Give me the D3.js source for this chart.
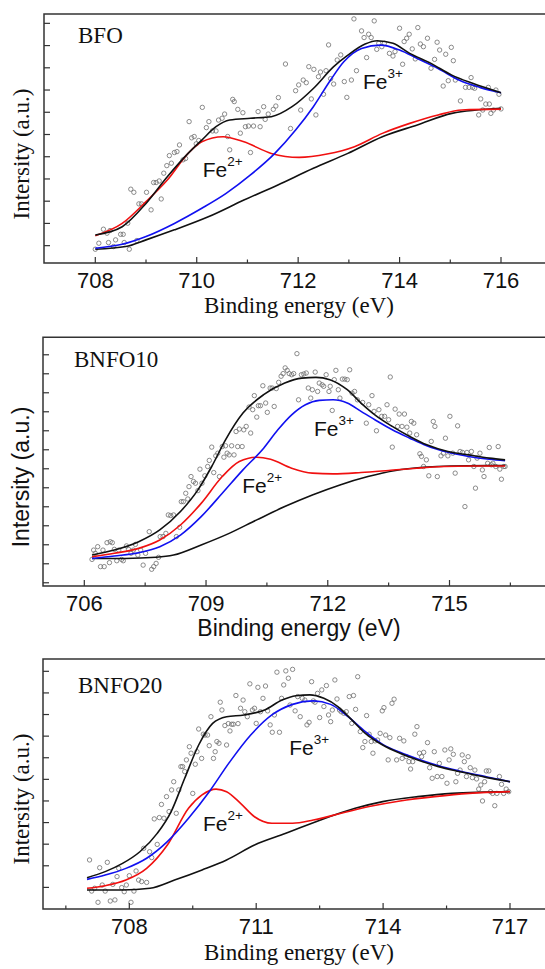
<!DOCTYPE html>
<html>
<head>
<meta charset="utf-8">
<script src="https://cdn.jsdelivr.net/npm/d3@7"></script>
<style>
  html, body { margin: 0; padding: 0; background: #fff; }
  svg { display: block; }
</style>
</head>
<body>
<svg id="chart" width="545" height="969"></svg>
<script>
// ---------------- DATA ----------------
// Panel titles
const sampleNames = ["BFO", "BNFO10", "BNFO20"];
const axisTitleX = "Binding energy (eV)";
const axisTitleY = "Intersity (a.u.)";

// X tick values (binding energy, eV)
const bfoMajorTicks = [708, 710, 712, 714, 716];
const bfoMinorTicks = [709, 711, 713, 715];
const bnfo10MajorTicks = [706, 709, 712, 715];
const bnfo10MinorTicks = [707.5, 710.5, 713.5, 716.5];
const bnfo20MajorTicks = [708, 711, 714, 717];
const bnfo20MinorTicks = [706.5, 709.5, 712.5, 715.5];

// Y ticks (unlabelled, arbitrary units)
const bfoYTicks = [1, 2, 3, 4, 5, 6, 7, 8, 9, 10, 11];
const bnfo10YTicks = [1, 2, 3, 4, 5, 6, 7, 8, 9, 10, 11, 12, 13];
const bnfo20YTicks = [1, 2, 3, 4, 5, 6, 7, 8, 9, 10, 11];

// ---- BFO ----
const bfoPoints = [
[708.00,0.84],[708.07,1.11],[708.16,1.74],[708.23,1.56],[708.29,1.68],[708.26,1.14],[708.36,0.96],[708.40,1.26],
[708.50,1.51],[708.55,1.51],[708.57,1.14],[708.64,2.01],[708.67,0.84],[708.70,3.54],[708.76,3.40],[708.82,1.23],
[708.86,2.88],[708.91,2.88],[709.01,3.40],[709.10,2.61],[709.15,3.84],[709.20,3.84],[709.26,3.91],[709.30,3.10],
[709.35,4.26],[709.41,4.60],[709.46,5.05],[709.50,4.71],[709.56,5.19],[709.61,5.23],[709.66,5.53],[709.73,4.86],
[709.78,4.92],[709.85,6.58],[709.90,5.85],[709.95,5.91],[709.99,5.58],[710.04,5.73],[710.11,7.22],[710.19,6.31],
[710.24,6.58],[710.31,6.16],[710.38,6.16],[710.43,6.65],[710.50,6.73],[710.55,6.92],[710.61,5.91],[710.65,5.31],
[710.71,7.58],[710.74,7.48],[710.81,7.13],[710.86,6.06],[710.91,6.98],[710.96,6.35],[711.02,6.38],[711.06,5.19],
[711.12,6.38],[711.21,7.03],[711.25,6.35],[711.32,7.25],[711.35,6.68],[711.41,6.92],[711.51,7.13],[711.56,7.28],
[711.61,7.66],[711.75,9.17],[711.85,6.27],[711.95,7.97],[712.01,8.23],[712.05,7.10],[712.10,8.45],[712.16,8.33],
[712.21,9.05],[712.26,7.60],[712.31,8.93],[712.35,6.88],[712.40,8.60],[712.44,8.81],[712.50,7.81],[712.55,8.87],
[712.60,10.03],[712.64,8.51],[712.70,8.27],[712.77,9.35],[712.84,9.58],[712.91,8.38],[712.96,7.67],[713.05,8.45],
[713.10,11.20],[713.15,8.87],[713.25,10.66],[713.30,10.36],[713.35,9.46],[713.39,10.51],[713.44,10.36],[713.50,11.11],
[713.55,9.83],[713.59,10.10],[713.65,9.95],[713.70,10.10],[713.80,9.65],[713.87,9.53],[713.91,9.73],[714.00,10.78],
[714.06,9.16],[714.09,10.18],[714.14,10.33],[714.19,10.51],[714.25,9.85],[714.31,9.40],[714.36,10.81],[714.41,10.07],
[714.47,9.95],[714.55,10.33],[714.62,8.98],[714.69,9.38],[714.74,10.15],[714.79,9.80],[714.86,8.18],[714.91,9.61],
[714.96,8.42],[715.02,9.92],[715.06,9.32],[715.10,8.45],[715.20,7.51],[715.30,8.12],[715.37,8.12],[715.41,8.56],
[715.44,8.12],[715.48,8.08],[715.56,6.88],[715.60,7.60],[715.64,7.10],[715.70,7.37],[715.75,8.12],[715.77,7.37],
[715.80,6.95],[715.85,7.10],[715.90,8.00],[715.96,7.81],[716.00,7.15]
];
const bfoEnvelope = [[708,1.48],[708.53,1.85],[709.0,2.9],[709.42,4.1],[709.83,5.15],[710.1,5.75],[710.38,6.35],[710.65,6.65],
[711.06,6.73],[711.47,6.8],[711.88,7.25],[712.3,8.07],[712.7,9.05],[712.98,9.57],[713.32,10.07],[713.56,10.22],[713.87,10.1],
[714.2,9.65],[714.62,9.2],[715.03,8.67],[715.44,8.3],[716.0,7.88]];
const bfoFe3 = [[708,0.88],[708.53,1.06],[709.0,1.41],[709.56,2.0],[710.1,2.68],[710.58,3.35],[711.06,4.18],[711.54,5.15],
[711.95,6.2],[712.3,7.25],[712.64,8.45],[712.9,9.27],[713.25,9.87],[713.63,10.02],[714.0,9.8],[714.35,9.42],[714.76,8.97],
[715.17,8.45],[715.58,8.12],[716.0,7.88]];
const bfoFe2 = [[708,1.45],[708.53,2.0],[709.0,2.98],[709.42,3.95],[709.83,5.15],[710.1,5.67],[710.52,5.9],[710.93,5.67],
[711.47,5.15],[712.02,4.97],[712.57,5.12],[713.11,5.45],[713.66,6.05],[714.2,6.5],[714.76,6.88],[715.23,7.1],[716.0,7.14]];
const bfoBackground = [[708,0.84],[708.6,0.96],[709.0,1.26],[709.56,1.71],[710.24,2.31],[710.93,3.05],[711.6,3.73],[712.3,4.48],
[712.98,5.15],[713.66,5.9],[714.35,6.43],[715.03,6.95],[716.0,7.18]];

// ---- BNFO10 ----
const bnfo10Points = [
[706.19,2.23],[706.23,2.72],[706.27,2.55],[706.33,2.90],[706.40,1.85],[706.46,2.72],[706.49,1.85],[706.56,3.11],
[706.62,2.06],[706.64,3.16],[706.69,3.11],[706.74,2.76],[706.80,2.16],[706.85,2.72],[706.92,2.23],[706.96,2.16],
[707.04,2.94],[707.09,2.76],[707.15,2.55],[707.21,2.72],[707.26,3.02],[707.32,2.46],[707.39,2.72],[707.45,1.93],
[707.51,2.55],[707.60,3.69],[707.66,1.71],[707.71,1.85],[707.77,2.02],[707.83,2.34],[707.87,3.43],[707.94,3.43],
[708.01,3.60],[708.07,4.57],[708.13,4.54],[708.20,4.57],[708.27,3.43],[708.35,3.92],[708.39,5.27],[708.44,5.27],
[708.50,5.71],[708.55,5.41],[708.58,6.06],[708.63,6.59],[708.69,6.33],[708.74,6.24],[708.80,5.85],[708.85,6.98],
[708.90,6.24],[708.97,6.63],[709.04,7.12],[709.08,7.44],[709.14,8.14],[709.19,6.80],[709.24,7.68],[709.29,7.82],
[709.33,6.59],[709.40,8.17],[709.44,7.61],[709.48,8.21],[709.52,7.82],[709.57,7.73],[709.63,8.21],[709.69,7.73],
[709.74,8.96],[709.78,8.17],[709.82,9.09],[709.89,8.17],[709.93,9.05],[709.99,9.23],[710.06,10.25],[710.10,8.88],
[710.15,10.11],[710.19,10.85],[710.25,9.72],[710.29,10.32],[710.34,10.32],[710.40,11.37],[710.47,10.46],[710.51,9.97],
[710.58,11.25],[710.63,11.25],[710.68,10.28],[710.73,11.22],[710.79,11.55],[710.85,11.87],[710.90,12.01],[710.95,12.31],
[711.00,12.18],[711.05,12.01],[711.11,11.95],[711.16,12.01],[711.24,13.06],[711.28,10.63],[711.35,11.95],[711.41,11.99],
[711.47,12.04],[711.52,11.25],[711.58,10.72],[711.62,11.16],[711.69,12.09],[711.75,11.07],[711.79,11.51],[711.86,11.42],
[711.90,11.34],[711.96,11.95],[712.03,11.07],[712.06,11.34],[712.11,10.07],[712.16,11.69],[712.20,12.18],[712.26,11.16],
[712.30,10.72],[712.36,11.72],[712.42,11.72],[712.48,11.69],[712.54,12.21],[712.60,10.98],[712.66,11.07],[712.73,10.63],
[712.86,10.49],[712.95,9.40],[713.01,10.37],[713.09,10.85],[713.14,10.02],[713.20,9.00],[713.26,10.11],[713.33,9.76],
[713.40,9.76],[713.46,10.37],[713.50,9.58],[713.54,11.83],[713.59,8.14],[713.66,10.14],[713.72,9.23],[713.76,9.88],
[713.83,9.23],[713.89,9.88],[713.95,9.19],[714.02,8.88],[714.06,9.49],[714.12,9.40],[714.19,8.79],[714.27,7.79],
[714.31,7.65],[714.36,7.12],[714.43,7.47],[714.49,6.63],[714.55,8.44],[714.60,9.49],[714.64,9.23],[714.70,6.59],
[714.79,7.68],[714.85,7.82],[714.90,8.61],[714.96,7.68],[715.01,9.76],[715.08,7.82],[715.14,6.77],[715.20,9.26],
[715.26,7.91],[715.32,7.86],[715.38,5.01],[715.43,7.86],[715.47,7.47],[715.54,7.91],[715.60,7.12],[715.64,5.98],
[715.68,7.56],[715.75,7.82],[715.81,6.94],[715.85,6.59],[715.94,7.29],[715.98,8.12],[716.03,7.21],[716.07,7.29],
[716.14,7.12],[716.20,8.17],[716.24,6.98],[716.28,6.45],[716.34,7.12],[716.37,7.12]
];
const bnfo10Envelope = [[706.19,2.46],[706.74,2.72],[707.34,3.16],[707.86,3.78],[708.37,4.75],[708.8,5.89],[709.14,7.12],
[709.48,8.52],[709.91,9.93],[710.42,10.9],[710.94,11.51],[711.36,11.77],[711.71,11.81],[712.05,11.69],[712.48,11.16],
[712.82,10.46],[713.16,9.84],[713.59,9.23],[714.02,8.7],[714.44,8.26],[714.96,7.91],[715.47,7.73],[715.98,7.56],[716.37,7.47]];
const bnfo10Fe3 = [[706.19,2.28],[706.74,2.41],[707.34,2.58],[707.86,2.9],[708.37,3.51],[708.88,4.48],[709.4,5.71],
[709.91,6.94],[710.42,8.08],[710.77,9.05],[711.11,9.84],[711.45,10.37],[711.79,10.6],[712.13,10.63],[712.48,10.46],
[712.82,10.02],[713.16,9.58],[713.59,9.05],[714.02,8.61],[714.44,8.21],[714.96,7.87],[715.47,7.65],[715.98,7.5],[716.37,7.42]];
const bnfo10Fe2 = [[706.19,2.37],[706.74,2.55],[707.34,2.81],[707.86,3.25],[708.37,4.04],[708.88,5.18],[709.4,6.59],
[709.82,7.38],[710.25,7.61],[710.59,7.5],[711.11,7.03],[711.62,6.77],[712.13,6.73],[712.82,6.8],[713.5,6.91],[714.19,7.03],
[714.87,7.12],[715.56,7.15],[716.37,7.15]];
const bnfo10Background = [[706.19,2.28],[707.0,2.28],[707.77,2.34],[708.2,2.46],[708.88,2.99],[709.57,3.6],[710.25,4.31],
[710.94,5.01],[711.62,5.62],[712.3,6.15],[712.99,6.59],[713.67,6.91],[714.35,7.08],[715.04,7.15],[716.37,7.17]];

// ---- BNFO20 ----
const bnfo20Points = [
[707.06,2.27],[707.11,0.83],[707.18,0.96],[707.26,0.31],[707.30,1.91],[707.36,1.11],[707.43,0.83],[707.48,2.16],
[707.55,0.37],[707.61,1.14],[707.66,0.42],[707.71,1.50],[707.75,1.88],[707.82,0.99],[707.88,0.80],[707.93,1.11],
[708.00,1.54],[708.04,0.31],[708.11,0.83],[708.16,1.76],[708.22,1.34],[708.29,1.27],[708.34,2.81],[708.41,1.23],
[708.48,2.65],[708.53,2.38],[708.59,4.17],[708.66,2.99],[708.71,4.23],[708.76,4.84],[708.82,4.20],[708.88,5.20],
[708.94,4.51],[709.00,5.51],[709.05,5.89],[709.11,4.43],[709.17,5.51],[709.22,6.59],[709.26,6.59],[709.31,6.36],
[709.35,6.90],[709.42,7.51],[709.46,7.21],[709.50,5.35],[709.56,6.70],[709.60,7.28],[709.64,8.33],[709.71,6.97],
[709.75,8.09],[709.79,8.05],[709.85,8.05],[709.89,7.56],[709.93,8.90],[709.99,6.97],[710.03,7.28],[710.07,7.75],
[710.12,7.67],[710.15,9.57],[710.19,9.21],[710.26,8.49],[710.30,7.59],[710.34,8.58],[710.38,8.24],[710.42,8.55],
[710.46,8.55],[710.52,9.88],[710.57,8.58],[710.63,9.29],[710.69,9.67],[710.73,9.13],[710.79,8.90],[710.85,10.42],
[710.91,9.21],[710.96,9.29],[711.00,8.59],[711.04,10.26],[711.10,9.13],[711.16,9.75],[711.22,10.32],[711.27,9.17],
[711.33,8.52],[711.38,8.18],[711.43,8.98],[711.49,10.96],[711.55,8.18],[711.60,9.75],[711.65,10.37],[711.70,11.02],
[711.76,10.68],[711.80,9.44],[711.86,11.09],[711.92,9.17],[711.98,9.83],[712.04,8.90],[712.09,9.75],[712.15,9.67],
[712.20,8.52],[712.25,8.64],[712.31,10.52],[712.35,9.63],[712.39,9.57],[712.45,9.98],[712.50,8.86],[712.55,10.14],
[712.60,9.37],[712.66,10.34],[712.71,8.98],[712.76,8.67],[712.80,9.21],[712.86,10.60],[712.91,9.72],[712.97,9.21],
[713.01,9.13],[713.07,9.06],[713.13,9.13],[713.20,9.83],[713.26,8.59],[713.30,9.88],[713.35,9.24],[713.40,10.75],
[713.46,8.21],[713.52,7.47],[713.57,7.75],[713.61,8.95],[713.67,8.09],[713.72,7.75],[713.76,7.21],[713.81,7.78],
[713.87,7.82],[713.93,8.13],[713.98,9.17],[714.02,9.32],[714.06,8.05],[714.12,6.90],[714.16,7.93],[714.21,9.52],
[714.26,9.71],[714.32,6.90],[714.39,7.90],[714.45,6.97],[714.49,7.78],[714.55,7.05],[714.61,6.82],[714.65,6.48],
[714.70,6.82],[714.75,8.09],[714.80,8.44],[714.86,7.21],[714.91,7.05],[714.96,7.25],[715.05,7.70],[715.10,6.54],
[715.16,6.05],[715.21,7.28],[715.28,6.13],[715.33,6.74],[715.39,6.13],[715.46,7.36],[715.51,5.82],[715.56,6.90],
[715.60,7.41],[715.66,7.16],[715.72,5.89],[715.76,6.28],[715.82,6.43],[715.87,7.13],[715.92,6.82],[715.97,6.13],
[716.01,7.05],[716.06,6.54],[716.11,6.08],[716.17,6.43],[716.21,6.02],[716.26,5.55],[716.31,5.74],[716.35,5.00],
[716.40,5.89],[716.44,6.39],[716.50,6.39],[716.54,5.43],[716.59,5.35],[716.64,4.78],[716.69,5.35],[716.75,6.13],
[716.80,5.77],[716.85,5.35],[716.91,5.55],[716.97,5.43]
];
const bnfo20Envelope = [[707.0,1.45],[707.43,1.73],[707.84,2.11],[708.25,2.65],[708.66,3.5],[708.99,4.51],[709.31,6.05],
[709.64,7.59],[709.97,8.59],[710.3,8.9],[710.71,8.98],[711.2,9.21],[711.61,9.67],[711.94,9.87],[712.27,9.91],[712.6,9.75],
[712.93,9.37],[713.26,8.75],[713.58,8.13],[713.99,7.59],[714.4,7.21],[714.82,6.9],[715.31,6.59],[715.8,6.36],[716.46,6.08],[717.0,5.89]];
const bnfo20Fe3 = [[707.0,1.37],[707.43,1.57],[707.92,1.88],[708.41,2.35],[708.9,3.12],[709.4,4.2],[709.89,5.43],
[710.38,6.82],[710.87,8.05],[711.37,8.98],[711.86,9.47],[712.35,9.63],[712.76,9.47],[713.17,8.9],[713.58,8.21],[713.99,7.62],
[714.4,7.25],[714.82,6.94],[715.31,6.63],[715.8,6.39],[716.46,6.11],[717.0,5.89]];
const bnfo20Fe2 = [[707.0,0.96],[707.43,1.08],[707.92,1.34],[708.41,1.88],[708.9,2.96],[709.4,4.66],[709.72,5.28],
[710.05,5.55],[710.3,5.43],[710.63,4.89],[710.96,4.27],[711.37,3.97],[711.86,3.97],[712.35,4.12],[713.01,4.43],[713.67,4.74],
[714.4,5.0],[715.22,5.2],[716.03,5.35],[717.0,5.43]];
const bnfo20Background = [[707.0,0.88],[707.84,0.88],[708.49,0.96],[709.07,1.34],[709.72,1.81],[710.3,2.27],[710.96,2.96],
[711.7,3.5],[712.52,4.12],[713.34,4.66],[713.99,4.97],[714.82,5.2],[715.63,5.35],[717.0,5.43]];

// Peak annotation anchors (data coordinates)
const bfoLabelsAt = [[713.28, 8.03, "3+"], [710.12, 4.10, "2+"]];
const bnfo10LabelsAt = [[711.66, 8.72, "3+"], [709.89, 5.74, "2+"]];
const bnfo20LabelsAt = [[711.78, 7.13, "3+"], [709.74, 3.63, "2+"]];

// ---------------- LAYOUT ----------------
const SERIF = "'Liberation Serif','Times New Roman',serif";
const SANS = "'Liberation Sans',Arial,Helvetica,sans-serif";

const panels = [
  { name: sampleNames[0], points: bfoPoints, env: bfoEnvelope, fe3: bfoFe3, fe2: bfoFe2, bg: bfoBackground,
    major: bfoMajorTicks, minor: bfoMinorTicks, yTicks: bfoYTicks, labels: bfoLabelsAt,
    top: 14, bottom: 263, left: 44, xd: [708, 716], xr: [95.3, 501], yd: [0.22, 11.42],
    nameX: 78, nameY: 43, titleFont: SERIF, titleXY: 313, yTitleFont: SERIF, yTitleCenter: 154 },
  { name: sampleNames[1], points: bnfo10Points, env: bnfo10Envelope, fe3: bnfo10Fe3, fe2: bnfo10Fe2, bg: bnfo10Background,
    major: bnfo10MajorTicks, minor: bnfo10MinorTicks, yTicks: bnfo10YTicks, labels: bnfo10LabelsAt,
    top: 337.3, bottom: 586, left: 43, xd: [706, 715], xr: [84.3, 449.5], yd: [0.83, 13.92],
    nameX: 74, nameY: 367, titleFont: SANS, titleXY: 636, yTitleFont: SANS, yTitleCenter: 477 },
  { name: sampleNames[2], points: bnfo20Points, env: bnfo20Envelope, fe3: bnfo20Fe3, fe2: bnfo20Fe2, bg: bnfo20Background,
    major: bnfo20MajorTicks, minor: bnfo20MinorTicks, yTicks: bnfo20YTicks, labels: bnfo20LabelsAt,
    top: 659, bottom: 909, left: 43, xd: [708, 717], xr: [129.3, 510], yd: [0, 11.57],
    nameX: 78, nameY: 693, titleFont: SERIF, titleXY: 960, yTitleFont: SERIF, yTitleCenter: 799 }
];

const svg = d3.select("#chart");
const W = 545;

panels.forEach(p => {
  const x = d3.scaleLinear().domain(p.xd).range(p.xr);
  const y = d3.scaleLinear().domain(p.yd).range([p.bottom, p.top]);
  const g = svg.append("g");

  // Points
  g.append("g").selectAll("circle").data(p.points).enter().append("circle")
    .attr("cx", d => x(d[0])).attr("cy", d => y(d[1])).attr("r", 2.2)
    .attr("fill", "none").attr("stroke", "#6e6e6e").attr("stroke-width", 0.8);

  const line = d3.line().x(d => x(d[0])).y(d => y(d[1])).curve(d3.curveMonotoneX);
  const curves = [
    [p.bg, "#111"], [p.fe2, "#f01010"], [p.fe3, "#1010f0"], [p.env, "#111"]
  ];
  curves.forEach(([data, col]) => {
    g.append("path").attr("d", line(data)).attr("fill", "none")
      .attr("stroke", col).attr("stroke-width", 1.6).attr("stroke-linejoin", "round");
  });

  // Frame: left, top, bottom (right edge off-canvas)
  const frameCol = "#333";
  g.append("path").attr("d", `M${W + 2},${p.top}H${p.left}V${p.bottom}H${W + 2}`)
    .attr("fill", "none").attr("stroke", frameCol).attr("stroke-width", 1.5);

  // Y ticks (inward)
  g.append("g").selectAll("line").data(p.yTicks).enter().append("line")
    .attr("x1", p.left).attr("x2", p.left + 6)
    .attr("y1", d => y(d)).attr("y2", d => y(d))
    .attr("stroke", frameCol).attr("stroke-width", 1.2);

  // X ticks (inward)
  g.append("g").selectAll("line").data(p.major).enter().append("line")
    .attr("x1", d => x(d)).attr("x2", d => x(d))
    .attr("y1", p.bottom).attr("y2", p.bottom - 6)
    .attr("stroke", frameCol).attr("stroke-width", 1.2);
  g.append("g").selectAll("line").data(p.minor).enter().append("line")
    .attr("x1", d => x(d)).attr("x2", d => x(d))
    .attr("y1", p.bottom).attr("y2", p.bottom - 3.5)
    .attr("stroke", frameCol).attr("stroke-width", 1.2);

  // X tick labels
  g.append("g").selectAll("text").data(p.major).enter().append("text")
    .attr("x", d => x(d)).attr("y", p.bottom + 24.5)
    .attr("text-anchor", "middle").attr("font-family", SANS).attr("font-size", 22)
    .attr("fill", "#111").text(d => d);

  // Axis titles
  g.append("text").attr("x", 299).attr("y", p.titleXY)
    .attr("text-anchor", "middle").attr("font-family", p.titleFont).attr("font-size", 23)
    .attr("fill", "#111").text(axisTitleX);
  g.append("text")
    .attr("transform", `translate(29,${p.yTitleCenter}) rotate(-90)`)
    .attr("text-anchor", "middle").attr("font-family", p.yTitleFont).attr("font-size", 23)
    .attr("fill", "#111").text(axisTitleY);

  // Sample name
  g.append("text").attr("x", p.nameX).attr("y", p.nameY)
    .attr("font-family", SERIF).attr("font-size", 23).attr("fill", "#111").text(p.name);

  // Fe labels
  p.labels.forEach(([lx, ly, sup]) => {
    const t = g.append("text").attr("x", x(lx)).attr("y", y(ly))
      .attr("font-family", SANS).attr("font-size", 21).attr("fill", "#111");
    t.append("tspan").text("Fe");
    t.append("tspan").attr("dy", -11).attr("font-size", 13.5).text(sup);
  });
});
</script>
</body>
</html>
